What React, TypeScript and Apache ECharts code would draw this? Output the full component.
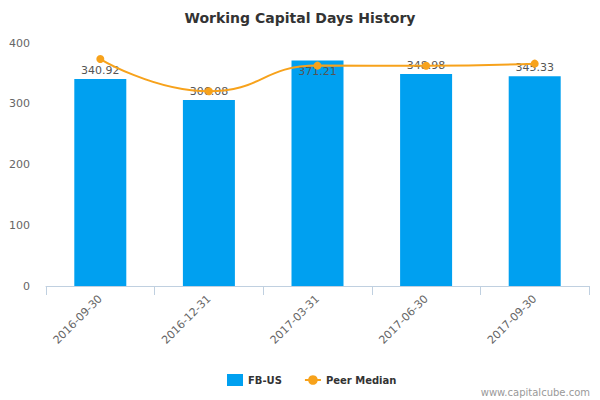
import React, { useEffect, useRef } from "react";
import * as echarts from "echarts";

const categories = ["2016-09-30", "2016-12-31", "2017-03-31", "2017-06-30", "2017-09-30"];
const companyValues = [340.92, 306.08, 371.21, 348.98, 345.33];
const peerMedian = [373.6, 320.5, 362.8, 362.5, 366.0];
const yTicks = { min: 0, max: 400, interval: 100 };

const FONT = "DejaVu Sans, Verdana, sans-serif";

export default function App() {
  const ref = useRef<HTMLDivElement>(null);
  useEffect(() => {
    document.body.style.margin = "0";
    if (!ref.current) return;
    const chart = echarts.init(ref.current, undefined, { renderer: "svg" });
    chart.setOption({
      animation: false,
      textStyle: { fontFamily: FONT },
      title: {
        text: "Working Capital Days History",
        left: "center",
        top: 6,
        textStyle: { fontFamily: FONT, fontSize: 14, fontWeight: "bold", color: "#333333" },
      },
      grid: { left: 46, right: 11, top: 43, bottom: 114 },
      legend: {
        bottom: 9,
        left: 222,
        itemGap: 22,
        textStyle: { fontFamily: FONT, fontSize: 10, fontWeight: "bold", color: "#333333" },
        data: [
          { name: "FB-US", icon: "rect", itemStyle: { color: "#00a0f0" } },
          { name: "Peer Median" },
        ],
        itemWidth: 16,
        itemHeight: 12,
      },
      xAxis: {
        type: "category",
        data: categories,
        axisLine: { lineStyle: { color: "#c0d0e0", width: 1 } },
        axisTick: { show: true, alignWithLabel: false, length: 9, lineStyle: { color: "#c0d0e0" } },
        axisLabel: { rotate: 45, color: "#666666", fontSize: 11, fontFamily: FONT, margin: 11 },
        splitLine: { show: false },
      },
      yAxis: {
        type: "value",
        min: yTicks.min,
        max: yTicks.max,
        interval: yTicks.interval,
        axisLine: { show: false },
        axisTick: { show: false },
        splitLine: { show: false },
        axisLabel: { color: "#666666", fontSize: 11, fontFamily: FONT, margin: 16 },
      },
      graphic: [
        {
          type: "text",
          right: 10,
          bottom: 3,
          style: { text: "www.capitalcube.com", fill: "#999999", fontSize: 10, fontFamily: FONT },
        },
      ],
      series: [
        {
          name: "FB-US",
          type: "bar",
          barWidth: 52,
          itemStyle: { color: "#00a0f0" },
          data: companyValues.map((v, i) =>
            i === 2
              ? { value: v, label: { position: "insideTop", distance: 6 } }
              : { value: v }
          ),
          label: {
            show: true,
            position: "top",
            distance: 3,
            color: "#555555",
            fontSize: 11,
            fontFamily: FONT,
            formatter: (p: any) => p.value.toFixed(2),
          },
          z: 2,
        },
        {
          name: "Peer Median",
          type: "line",
          smooth: 0.5,
          data: peerMedian,
          symbol: "circle",
          symbolSize: 8,
          itemStyle: { color: "#f7a21b" },
          lineStyle: { color: "#f7a21b", width: 2 },
          z: 3,
        },
      ],
    });
    return () => chart.dispose();
  }, []);
  return <div ref={ref} style={{ width: 600, height: 400 }} />;
}
